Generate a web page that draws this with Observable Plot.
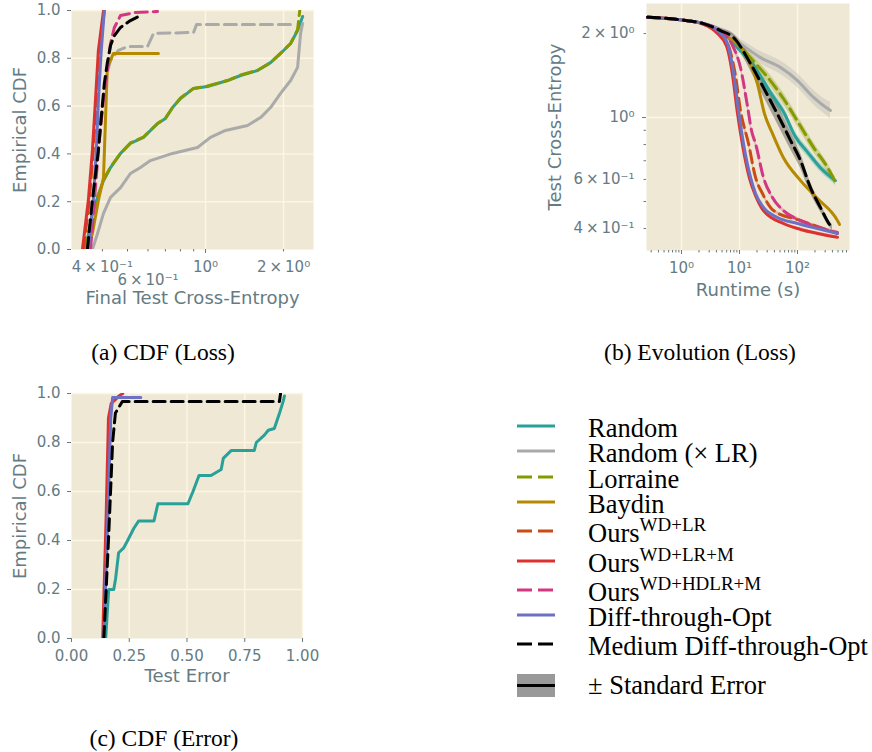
<!DOCTYPE html>
<html>
<head>
<meta charset="utf-8">
<script src="https://cdn.jsdelivr.net/npm/d3@7"></script>
<script src="https://cdn.jsdelivr.net/npm/@observablehq/plot@0.6"></script>
<style>
html,body{margin:0;padding:0;background:#fff;}
#fig{position:relative;width:872px;height:752px;overflow:hidden;background:#fff;}
.cap,.lt{position:absolute;font-family:"Liberation Serif","Times New Roman",serif;color:#000;white-space:nowrap;}
.cap{font-size:23.5px;line-height:23.5px;}
.lt{font-size:26.5px;line-height:22px;}
.sup{font-size:19px;line-height:0;position:relative;top:-11px;}
</style>
</head>
<body>
<div id="fig"></div>
<script>
// ---------------- DATA ----------------
const seriesNames = ["Random", "Random (× LR)", "Lorraine", "Baydin", "Ours WD+LR", "Ours WD+LR+M", "Ours WD+HDLR+M", "Diff-through-Opt", "Medium Diff-through-Opt"];

// (a) CDF of final test cross-entropy: [loss, cdf]
const aRandom = [[0.344,0],[0.366,0.151],[0.383,0.218],[0.404,0.289],[0.430,0.343],[0.470,0.402],[0.513,0.444],[0.576,0.469],[0.653,0.527],[0.701,0.548],[0.746,0.594],[0.801,0.632],[0.899,0.674],[1.018,0.682],[1.216,0.707],[1.365,0.728],[1.588,0.749],[1.782,0.782],[1.948,0.82],[2.13,0.862],[2.266,0.916],[2.37,0.975]];
const aRandomLR = [[0.366,0],[0.383,0.067],[0.404,0.151],[0.430,0.218],[0.470,0.259],[0.513,0.318],[0.561,0.343],[0.613,0.372],[0.746,0.402],[0.931,0.427],[1.045,0.469],[1.194,0.498],[1.453,0.519],[1.631,0.552],[1.782,0.594],[1.948,0.653],[2.13,0.707],[2.266,0.762],[2.327,0.904],[2.369,0.946]];
const aRandomLRDashed = [[0.353,0],[0.376,0.289],[0.393,0.54],[0.411,0.707],[0.430,0.791],[0.461,0.833],[0.500,0.849],[0.597,0.849],[0.630,0.904],[0.899,0.908],[0.923,0.941],[2.226,0.941]];
const aLorraine = [[0.344,0],[0.366,0.151],[0.383,0.22],[0.404,0.29],[0.430,0.345],[0.470,0.402],[0.513,0.446],[0.576,0.47],[0.653,0.527],[0.701,0.55],[0.746,0.594],[0.801,0.634],[0.899,0.674],[1.018,0.684],[1.216,0.707],[1.365,0.73],[1.588,0.75],[1.782,0.782],[1.948,0.822],[2.13,0.862],[2.266,0.92],[2.31,1.0]];
const aBaydin = [[0.350,0],[0.366,0.067],[0.386,0.205],[0.404,0.301],[0.411,0.54],[0.418,0.762],[0.441,0.82],[0.658,0.82]];
const aOursLR = [[0.338,0],[0.356,0.205],[0.369,0.414],[0.379,0.623],[0.390,0.833],[0.407,1.0]];
const aOursM = [[0.335,0],[0.353,0.205],[0.366,0.414],[0.376,0.623],[0.386,0.833],[0.404,1.0]];
const aOursHD = [[0.360,0],[0.386,0.414],[0.407,0.665],[0.418,0.749],[0.430,0.862],[0.445,0.929],[0.470,0.979],[0.537,0.992],[0.653,0.996]];
const aDTO = [[0.353,0],[0.369,0.205],[0.379,0.414],[0.386,0.623],[0.396,0.833],[0.407,1.0]];
const aMedium = [[0.350,0],[0.366,0.205],[0.386,0.414],[0.396,0.552],[0.407,0.695],[0.418,0.782],[0.430,0.854],[0.445,0.895],[0.470,0.929],[0.513,0.958],[0.571,0.983]];

// (b) Test cross-entropy over runtime: [seconds, loss, standard error (log10 half-width)]
const bRandom = [[0.26,2.29,0.002],[0.96,2.24,0.002],[2.4,2.17,0.004],[4.7,2.05,0.006],[9.2,1.78,0.01],[18,1.52,0.014],[35,1.22,0.017],[60,1.03,0.018],[90,0.86,0.017],[150,0.75,0.016],[250,0.66,0.015],[450,0.594,0.015]];
const bRandomLR = [[0.26,2.29,0.002],[0.96,2.24,0.003],[2.4,2.17,0.005],[5.7,2.02,0.01],[10.4,1.84,0.016],[23,1.64,0.022],[51,1.51,0.024],[100,1.357,0.025],[189,1.18,0.026],[329,1.077,0.028],[371,1.06,0.03]];
const bLorraine = [[0.26,2.29,0.002],[0.96,2.24,0.002],[2.4,2.17,0.004],[5.1,2.02,0.007],[10,1.80,0.012],[18,1.58,0.016],[30,1.40,0.02],[57,1.17,0.021],[113,0.93,0.02],[190,0.78,0.018],[330,0.662,0.016],[450,0.588,0.015]];
const bBaydin = [[0.26,2.29,0.002],[0.96,2.24,0.002],[2.4,2.17,0.004],[5.7,1.97,0.008],[10.4,1.78,0.012],[15.5,1.56,0.014],[20.4,1.32,0.014],[27,1.03,0.012],[37,0.877,0.01],[57,0.719,0.008],[113,0.594,0.006],[221,0.512,0.005],[489,0.427,0.005],[530,0.414,0.005]];
const bOursLR = [[0.26,2.29,0.002],[0.96,2.24,0.002],[2.4,2.16,0.004],[4.3,2.02,0.006],[6.5,1.80,0.01],[8.5,1.415,0.012],[10.4,1.06,0.012],[14.3,0.807,0.01],[18.9,0.61,0.008],[24.9,0.534,0.007],[38.6,0.464,0.006],[113,0.427,0.005],[489,0.384,0.005]];
const bOursM = [[0.26,2.29,0.002],[0.96,2.24,0.002],[2.4,2.16,0.004],[4.0,2.02,0.006],[6.0,1.80,0.01],[7.6,1.415,0.012],[9.2,1.04,0.012],[11.3,0.794,0.01],[14.9,0.604,0.008],[18.9,0.525,0.007],[25.9,0.464,0.006],[57,0.417,0.005],[113,0.397,0.005],[221,0.384,0.005],[489,0.372,0.005]];
const bOursHD = [[0.26,2.29,0.002],[0.96,2.24,0.002],[2.4,2.17,0.004],[5.1,2.02,0.007],[7.6,1.81,0.01],[10.4,1.51,0.012],[13.7,1.10,0.012],[16.1,0.898,0.012],[18.9,0.807,0.011],[25.9,0.61,0.009],[37,0.517,0.008],[57,0.464,0.007],[113,0.427,0.006],[489,0.387,0.006]];
const bDTO = [[0.26,2.29,0.002],[0.96,2.24,0.002],[2.4,2.17,0.004],[4.17,2.05,0.005],[6.2,1.84,0.008],[7.9,1.44,0.01],[9.6,1.06,0.01],[11.7,0.807,0.009],[15.5,0.61,0.007],[18.9,0.534,0.006],[25.9,0.476,0.005],[45,0.438,0.005],[100,0.417,0.004],[220,0.40,0.004],[490,0.384,0.004]];
const bMedium = [[0.26,2.29,0.002],[0.96,2.24,0.002],[2.4,2.17,0.004],[4.7,2.05,0.008],[7.9,1.935,0.014],[15.5,1.56,0.025],[25.9,1.28,0.032],[45,1.03,0.035],[76,0.827,0.032],[113,0.70,0.027],[167,0.561,0.02],[249,0.476,0.015],[371,0.41,0.01],[401,0.404,0.01]];

// (c) CDF of test error: [error, cdf]
const cRandom = [[0.148,0],[0.161,0.20],[0.183,0.20],[0.191,0.245],[0.204,0.35],[0.226,0.37],[0.243,0.40],[0.27,0.45],[0.291,0.48],[0.357,0.48],[0.374,0.55],[0.504,0.55],[0.526,0.60],[0.552,0.665],[0.604,0.665],[0.648,0.69],[0.657,0.735],[0.691,0.767],[0.791,0.767],[0.80,0.80],[0.835,0.83],[0.852,0.85],[0.878,0.857],[0.90,0.918],[0.917,0.97],[0.922,0.99]];
const cOursM = [[0.135,0],[0.15,0.5],[0.16,0.9],[0.172,0.96],[0.19,0.975],[0.205,0.99],[0.222,1.0]];
const cDTO = [[0.140,0],[0.157,0.49],[0.17,0.9],[0.178,0.984],[0.30,0.984]];
const cMedium = [[0.14,0],[0.16,0.4],[0.17,0.62],[0.178,0.8],[0.19,0.92],[0.22,0.967],[0.90,0.967],[0.905,1.0]];

// tick labels
const aXTickLabels = [[0.4, "4\u2009×\u200910⁻¹"], [1, "10⁰"], [2, "2\u2009×\u200910⁰"]];
const aXTickLabelsLow = [[0.6, "6\u2009×\u200910⁻¹"]];
const bXTickLabels = [[1, "10⁰"], [10, "10¹"], [100, "10²"]];
const bYTickLabels = [[2, "2\u2009×\u200910⁰"], [1, "10⁰"], [0.6, "6\u2009×\u200910⁻¹"], [0.4, "4\u2009×\u200910⁻¹"]];

// ---------------- STYLE ----------------
const bg = "#eee8d5", gridC = "#fdf6e3", fg = "#657b83";
const colors = ["#2aa198", "#aaaaaa", "#859900", "#b58900", "#cb4b16", "#dc322f", "#d33682", "#6c71c4", "#000000"];
const dashedSeries = [false, false, true, false, true, false, true, false, true];
const DASH = "12,6";

const fig = document.getElementById("fig");
function place(el, left, top) {
  el.style.position = "absolute";
  el.style.left = left + "px";
  el.style.top = top + "px";
  fig.appendChild(el);
}
function lineMark(data, i, extra = {}) {
  const o = {x: d => d[0], y: d => d[1], stroke: colors[i], strokeWidth: 3, clip: true, ...extra};
  if (dashedSeries[i]) o.strokeDasharray = DASH;
  return Plot.line(data, o);
}
function yLabel(text, dx) {
  return Plot.text([text], {text: d => d, frameAnchor: "left", rotate: -90, dx, textAnchor: "middle", lineAnchor: "middle", fontSize: 18, fill: fg});
}
function xLabel(text, dy) {
  return Plot.text([text], {text: d => d, frameAnchor: "bottom", dy, textAnchor: "middle", lineAnchor: "middle", fontSize: 18, fill: fg});
}
function xTickText(pairs, dy) {
  return Plot.text(pairs, {x: d => d[0], text: d => d[1], frameAnchor: "bottom", dy, lineAnchor: "middle", textAnchor: "middle", fill: fg, fontSize: 15});
}
function yTickText(pairs, dx) {
  return Plot.text(pairs, {y: d => d[0], text: d => d[1], frameAnchor: "left", dx, lineAnchor: "middle", textAnchor: "end", fill: fg, fontSize: 15});
}
const plotStyle = {background: "transparent", color: fg, fontFamily: "DejaVu Sans, sans-serif", fontSize: "15px", overflow: "visible"};

// ---------------- PANEL A ----------------
const aSeries = [aRandom, aRandomLR, aLorraine, aBaydin, aOursLR, aOursM, aOursHD, aDTO, aMedium];
const panelA = Plot.plot({
  width: 320, height: 320, marginLeft: 71, marginRight: 7, marginTop: 10, marginBottom: 71,
  style: plotStyle,
  x: {type: "log", domain: [0.304, 2.61]},
  y: {domain: [0, 1]},
  marks: [
    Plot.frame({fill: bg, stroke: "none"}),
    Plot.gridX([1, 2], {stroke: gridC, strokeOpacity: 1, strokeWidth: 1.5}),
    Plot.gridY([0.2, 0.4, 0.6, 0.8, 1.0], {stroke: gridC, strokeOpacity: 1, strokeWidth: 1.5}),
    Plot.axisX([0.4, 0.5, 0.6, 0.7, 0.8, 0.9, 2], {tickSize: 2.5, tickFormat: () => "", label: null}),
    Plot.axisX([1], {tickSize: 4, tickFormat: () => "", label: null}),
    xTickText(aXTickLabels, 18),
    xTickText(aXTickLabelsLow, 31),
    Plot.axisY([0, 0.2, 0.4, 0.6, 0.8, 1.0], {tickSize: 4, tickPadding: 7, tickFormat: d3.format(".1f"), label: null}),
    lineMark(aRandomLRDashed, 1, {strokeDasharray: DASH}),
    ...aSeries.map((s, i) => lineMark(s, i)),
    yLabel("Empirical CDF", -51),
    xLabel("Final Test Cross-Entropy", 49)
  ]
});
place(panelA, 0, 0);

// ---------------- PANEL B ----------------
const bSeries = [bRandom, bRandomLR, bLorraine, bBaydin, bOursLR, bOursM, bOursHD, bDTO, bMedium];
const bMinorX = [0.3,0.4,0.5,0.6,0.7,0.8,0.9,2,3,4,5,6,7,8,9,20,30,40,50,60,70,80,90,200,300,400,500,600,700];
const panelB = Plot.plot({
  width: 332, height: 320, marginLeft: 106, marginRight: 23, marginTop: 3, marginBottom: 70,
  style: plotStyle,
  x: {type: "log", domain: [0.249, 788]},
  y: {type: "log", domain: [0.3337, 2.563]},
  marks: [
    Plot.frame({fill: bg, stroke: "none"}),
    Plot.gridX([1, 10, 100], {stroke: gridC, strokeOpacity: 1, strokeWidth: 1.5}),
    Plot.gridY([1], {stroke: gridC, strokeOpacity: 1, strokeWidth: 1.5}),
    Plot.axisX(bMinorX, {tickSize: 2.5, tickFormat: () => "", label: null}),
    Plot.axisX([1, 10, 100], {tickSize: 4, tickFormat: () => "", label: null}),
    xTickText(bXTickLabels, 18),
    Plot.axisY([0.4,0.5,0.6,0.7,0.8,0.9,2], {tickSize: 2.5, tickFormat: () => "", label: null}),
    Plot.axisY([1], {tickSize: 4, tickFormat: () => "", label: null}),
    yTickText(bYTickLabels, -12),
    ...bSeries.map((s, i) => Plot.areaY(s, {x: d => d[0], y1: d => d[1] / Math.pow(10, d[2]), y2: d => d[1] * Math.pow(10, d[2]), fill: colors[i], fillOpacity: 0.3, curve: "monotone-x", clip: true})),
    ...bSeries.map((s, i) => lineMark(s, i, {curve: "monotone-x"})),
    yLabel("Test Cross-Entropy", -91),
    xLabel("Runtime (s)", 40)
  ]
});
place(panelB, 540, 0);

// ---------------- PANEL C ----------------
const cSeries = [[cRandom, 0], [cOursM, 5], [cDTO, 7], [cMedium, 8]];
const panelC = Plot.plot({
  width: 320, height: 320, marginLeft: 71, marginRight: 18, marginTop: 13, marginBottom: 62,
  style: plotStyle,
  x: {domain: [0, 1]},
  y: {domain: [0, 1]},
  marks: [
    Plot.frame({fill: bg, stroke: "none"}),
    Plot.gridX([0.25, 0.5, 0.75, 1.0], {stroke: gridC, strokeOpacity: 1, strokeWidth: 1.5}),
    Plot.gridY([0.2, 0.4, 0.6, 0.8, 1.0], {stroke: gridC, strokeOpacity: 1, strokeWidth: 1.5}),
    Plot.axisX([0, 0.25, 0.5, 0.75, 1.0], {tickSize: 4, tickPadding: 8, tickFormat: d3.format(".2f"), label: null}),
    Plot.axisY([0, 0.2, 0.4, 0.6, 0.8, 1.0], {tickSize: 4, tickPadding: 7, tickFormat: d3.format(".1f"), label: null}),
    ...cSeries.map(([s, i]) => lineMark(s, i)),
    yLabel("Empirical CDF", -51),
    xLabel("Test Error", 38)
  ]
});
place(panelC, 0, 380);

// ---------------- CAPTIONS ----------------
function caption(text, centerX, baseline) {
  const d = document.createElement("div");
  d.className = "cap";
  d.textContent = text;
  d.style.transform = "translateX(-50%)";
  place(d, centerX, baseline - 18.5);
}
caption("(a) CDF (Loss)", 163, 359);
caption("(b) Evolution (Loss)", 700, 359);
caption("(c) CDF (Error)", 164, 745);

// ---------------- LEGEND ----------------
const legendLabels = ["Random", "Random (× LR)", "Lorraine", "Baydin",
  'Ours<span class="sup">WD+LR</span>', 'Ours<span class="sup">WD+LR+M</span>',
  'Ours<span class="sup">WD+HDLR+M</span>', "Diff-through-Opt", "Medium Diff-through-Opt"];
const legendRowY = [426, 451, 477, 502, 531, 561, 590, 615, 644];
legendLabels.forEach((lab, i) => {
  const svg = d3.create("svg").attr("width", 40).attr("height", 10);
  svg.append("line").attr("x1", 0).attr("x2", 38).attr("y1", 5).attr("y2", 5)
    .attr("stroke", colors[i]).attr("stroke-width", 3)
    .attr("stroke-dasharray", dashedSeries[i] ? "15,6" : null);
  place(svg.node(), 517, legendRowY[i] - 5);
  const t = document.createElement("div");
  t.className = "lt";
  t.innerHTML = lab;
  place(t, 588, legendRowY[i] + 10.5 - 19.9);
});
{
  const svg = d3.create("svg").attr("width", 40).attr("height", 24);
  svg.append("rect").attr("x", 0).attr("y", 0).attr("width", 38).attr("height", 23).attr("fill", "#999999");
  svg.append("line").attr("x1", 0).attr("x2", 38).attr("y1", 11.5).attr("y2", 11.5).attr("stroke", "#000").attr("stroke-width", 3);
  place(svg.node(), 517, 674);
  const t = document.createElement("div");
  t.className = "lt";
  t.textContent = "± Standard Error";
  place(t, 588, 694 - 19.9);
}
</script>
</body>
</html>
